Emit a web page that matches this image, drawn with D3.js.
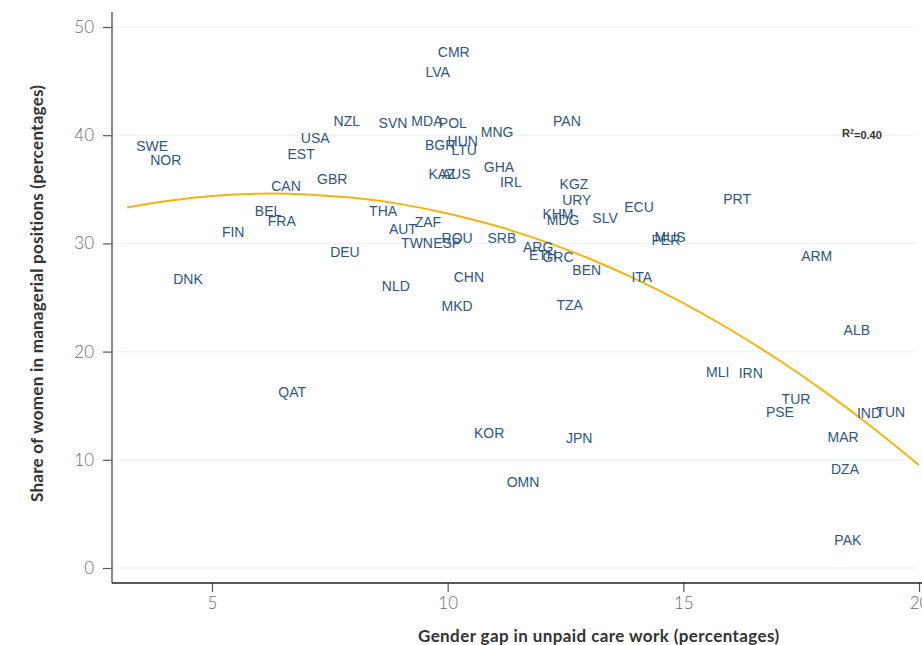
<!DOCTYPE html>
<html><head><meta charset="utf-8">
<script src="https://cdn.jsdelivr.net/npm/d3@7"></script>
<style>
html,body{margin:0;padding:0;background:#fff;}
svg{display:block;}
</style></head>
<body>
<svg id="chart" width="922" height="645"></svg>
<script>
// ---- data ----
const countries = ["SWE","NOR","DNK","FIN","BEL","FRA","CAN","USA","EST","NZL","GBR","DEU","THA","AUT","ZAF","TWN","ESP","NLD","SVN","MDA","CMR","LVA","POL","HUN","BGR","LTU","MNG","PAN","KAZ","AUS","GHA","IRL","KGZ","URY","KHM","MDG","SLV","ECU","PRT","MUS","PER","ROU","SRB","ARG","ETH","GRC","BEN","ITA","ARM","CHN","MKD","TZA","QAT","ALB","MLI","IRN","TUR","PSE","IND","TUN","MAR","DZA","PAK","KOR","JPN","OMN"];
const careGap = [3.73,4.02,4.49,5.45,6.19,6.48,6.57,7.19,6.89,7.86,7.55,7.82,8.63,9.05,9.58,9.35,9.99,8.90,8.84,9.56,10.13,9.79,10.11,10.32,9.84,10.35,11.05,12.53,9.88,10.18,11.09,11.34,12.68,12.74,12.34,12.45,13.34,14.06,16.14,14.72,14.63,10.20,11.15,11.92,12.02,12.34,12.95,14.12,17.83,10.45,10.20,12.59,6.70,18.68,15.73,16.43,17.39,17.05,18.94,19.40,18.39,18.43,18.49,10.88,12.79,11.60];
const womenManagers = [38.97,37.67,26.69,31.02,32.96,32.04,35.27,39.70,38.23,41.27,35.92,29.18,32.96,31.30,31.95,30.01,30.01,26.04,41.09,41.27,47.65,45.89,41.09,39.43,39.06,38.60,40.26,41.27,36.38,36.38,37.03,35.64,35.46,33.98,32.69,32.13,32.32,33.33,34.07,30.56,30.29,30.47,30.47,29.64,28.90,28.72,27.52,26.87,28.81,26.87,24.19,24.28,16.25,21.98,18.10,18.01,15.60,14.40,14.31,14.40,12.10,9.14,2.59,12.47,12.00,7.94];
// fitted quadratic curve
const fitX = [3.2,4,5,6,7,8,9,10,11,12,13,14,15,16,17,18,19,20];
const fitY = [33.32,33.89,34.37,34.59,34.53,34.21,33.63,32.77,31.65,30.26,28.60,26.67,24.48,22.02,19.29,16.30,13.03,9.51];
const xTicks = [5,10,15,20];
const yTicks = [0,10,20,30,40,50];
const r2Label = {x: 18.79, y: 40.17, text: "0.40"};
const xTitle = "Gender gap in unpaid care work (percentages)";
const yTitle = "Share of women in managerial positions (percentages)";

// ---- scales ----
const svg = d3.select("#chart");
const x = d3.scaleLinear().domain([5,20]).range([212,919]);
const y = d3.scaleLinear().domain([0,50]).range([568,27]);
const plotLeft = 112, plotBottom = 583, plotTop = 12, plotRight = 922;

// gridlines
svg.append("g").selectAll("line").data(yTicks).join("line")
  .attr("x1", plotLeft+1).attr("x2", 917)
  .attr("y1", d=>y(d)).attr("y2", d=>y(d))
  .attr("stroke", "#edf2f3").attr("stroke-width", 1.2);

// y axis
const yAxis = svg.append("g").attr("transform", `translate(${plotLeft},0)`)
  .call(d3.axisLeft(y).tickValues(yTicks).tickSize(9).tickPadding(9));
yAxis.select(".domain").remove();
yAxis.selectAll(".tick line").attr("stroke", "#555").attr("stroke-width", 1.2);
yAxis.selectAll(".tick text").attr("fill", "#6a6a6a")
  .style("font-family", "Lato, 'Open Sans', sans-serif").style("font-weight", "300").style("font-size", "17px");
svg.append("line").attr("x1", plotLeft).attr("x2", plotLeft).attr("y1", plotTop).attr("y2", plotBottom)
  .attr("stroke", "#6b6b6b").attr("stroke-width", 1.6);

// x axis
const xAxis = svg.append("g").attr("transform", `translate(0,${plotBottom})`)
  .call(d3.axisBottom(x).tickValues(xTicks).tickSize(9).tickPadding(5));
xAxis.select(".domain").remove();
xAxis.selectAll(".tick line").attr("stroke", "#555").attr("stroke-width", 1.2);
xAxis.selectAll(".tick text").attr("fill", "#6a6a6a")
  .style("font-family", "Lato, 'Open Sans', sans-serif").style("font-weight", "300").style("font-size", "17px");
svg.append("line").attr("x1", plotLeft).attr("x2", plotRight).attr("y1", plotBottom).attr("y2", plotBottom)
  .attr("stroke", "#222").attr("stroke-width", 1.4);

// fitted curve
const line = d3.line().x((d,i)=>x(fitX[i])).y(d=>y(d)).curve(d3.curveNatural);
svg.append("path").datum(fitY).attr("d", line)
  .attr("fill", "none").attr("stroke", "#f2b50f").attr("stroke-width", 2);

// country labels
svg.append("g").selectAll("text").data(countries).join("text")
  .attr("x", (d,i)=>x(careGap[i])).attr("y", (d,i)=>y(womenManagers[i]))
  .attr("text-anchor", "middle").attr("dy", "0.36em")
  .attr("fill", "#2f5580")
  .style("font-family", "'Liberation Sans', Arial, sans-serif").style("font-size", "14px")
  .text(d=>d);

// R² label
const r2 = svg.append("text").attr("x", x(r2Label.x)).attr("y", y(r2Label.y)).attr("dy", "0.36em")
  .attr("text-anchor", "middle").attr("fill", "#333")
  .style("font-family", "'Liberation Sans', Arial, sans-serif").style("font-size", "11px").style("font-weight", "bold");
r2.append("tspan").text("R");
r2.append("tspan").attr("dy", "-0.45em").style("font-size", "7px").text("2");
r2.append("tspan").attr("dy", "0.45em").text("=" + r2Label.text);

// axis titles
svg.append("text").attr("x", 418).attr("y", 642).attr("text-anchor", "start")
  .attr("fill", "#333").style("font-family", "Lato, 'Open Sans', sans-serif")
  .style("font-weight", "bold").style("font-size", "17px").style("letter-spacing", "0.4px").text(xTitle);
svg.append("text").attr("transform", "translate(43,502) rotate(-90)").attr("text-anchor", "start")
  .attr("fill", "#333").style("font-family", "Lato, 'Open Sans', sans-serif")
  .style("font-weight", "bold").style("font-size", "17px").style("letter-spacing", "0.25px").text(yTitle);
</script>
</body></html>
